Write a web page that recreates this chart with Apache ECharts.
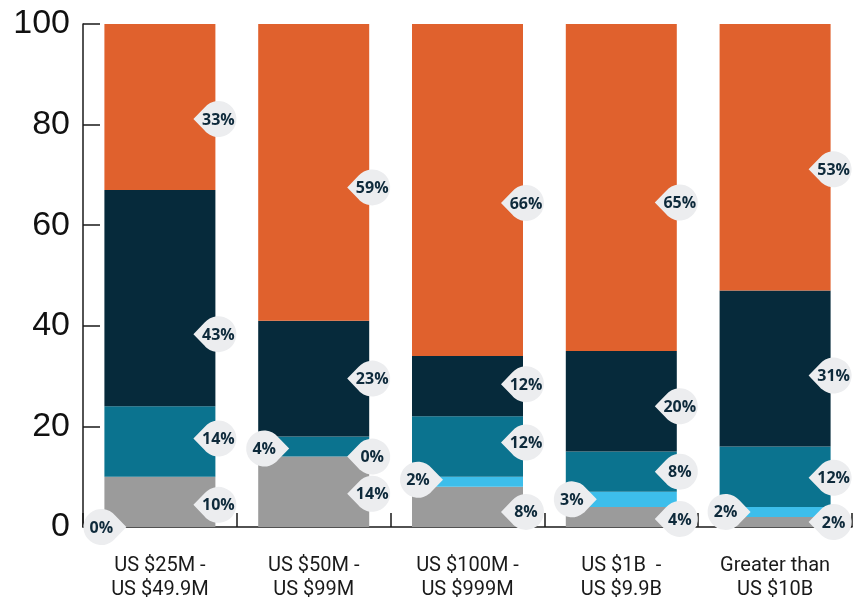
<!DOCTYPE html>
<html>
<head>
<meta charset="utf-8">
<script src="https://cdn.jsdelivr.net/npm/echarts@6/dist/echarts.min.js"></script>
<style>
  html, body { margin: 0; padding: 0; background: #ffffff; }
  #chart { width: 854px; height: 602px; }
</style>
</head>
<body>
<div id="chart"></div>
<script>
// Company size bands (x axis)
const categories = [
  'US $25M -\nUS $49.9M',
  'US $50M -\nUS $99M',
  'US $100M -\nUS $999M',
  'US $1B  -\nUS $9.9B',
  'Greater than\nUS $10B'
];

// Share of respondents per band, stacked bottom to top (%)
const greyShare   = [10, 14, 8, 4, 2];
const skyShare    = [0, 0, 2, 3, 2];
const tealShare   = [14, 4, 12, 8, 12];
const navyShare   = [43, 23, 12, 20, 31];
const orangeShare = [33, 59, 66, 65, 53];

const yTicks = [0, 20, 40, 60, 80, 100];

// Which side of the bar each value bubble sits on
const bubbleSide = {
  grey:   ['right', 'right', 'right', 'right', 'right'],
  sky:    ['base',  'right', 'left',  'left',  'left'],
  teal:   ['right', 'left',  'right', 'right', 'right'],
  navy:   ['right', 'right', 'right', 'right', 'right'],
  orange: ['right', 'right', 'right', 'right', 'right']
};

// Small vertical nudges (px) for bubble placement
const bubbleNudge = {
  grey:   [3, 2, 5, 2, 0],
  sky:    [0, 0, -2, 0, 0],
  teal:   [-3, 2, -4, 0, 1],
  navy:   [36, 0, -2, 5, 7],
  orange: [12, 15, 13, 15, 12]
};

const layers = [
  { key: 'grey',   data: greyShare,   color: '#9B9B9B' },
  { key: 'sky',    data: skyShare,    color: '#3DBEEB' },
  { key: 'teal',   data: tealShare,   color: '#0B738F' },
  { key: 'navy',   data: navyShare,   color: '#062A3B' },
  { key: 'orange', data: orangeShare, color: '#E0612D' }
];

const BAR_W = 111;
const R = 18;        // bubble radius
const TAIL = 25;     // tail tip distance from bubble centre
const W = TAIL + R;  // symbol box width
const H = 2 * R;
const a = 40 * Math.PI / 180;
const jx = TAIL - R * Math.cos(a), jy1 = R - R * Math.sin(a), jy2 = R + R * Math.sin(a);
// bubble with a tail pointing left / right
const pinPointLeft = 'path://M0 ' + R + ' L' + jx + ' ' + jy1 +
  ' A' + R + ' ' + R + ' 0 1 1 ' + jx + ' ' + jy2 + ' Z';
const pinPointRight = 'path://M' + W + ' ' + R + ' L' + (W - jx) + ' ' + jy1 +
  ' A' + R + ' ' + R + ' 0 1 0 ' + (W - jx) + ' ' + jy2 + ' Z';

const shift = (TAIL - W / 2);
const rightDx = BAR_W / 2 + 3 - shift;
const leftDx = -BAR_W / 2 + 6 + shift;

const rightPins = [];
const leftPins = [];
const running = categories.map(() => 0);
layers.forEach(layer => {
  layer.data.forEach((v, i) => {
    const side = bubbleSide[layer.key][i];
    const dy = bubbleNudge[layer.key][i];
    const mid = running[i] + v / 2;
    if (side === 'right') {
      rightPins.push({ value: [i, mid], pct: v, symbolOffset: [rightDx, dy] });
    } else if (side === 'left') {
      leftPins.push({ value: [i, mid], pct: v, symbolOffset: [leftDx, dy] });
    } else {
      leftPins.push({ value: [i, 0], pct: v, symbolOffset: [leftDx - 9, dy] });
    }
    running[i] += v;
  });
});

const pinLabel = (dx) => ({
  show: true,
  position: 'inside',
  offset: [dx, 1],
  formatter: p => p.data.pct + '%',
  fontFamily: 'Open Sans',
  fontWeight: 'bold',
  fontSize: 16,
  color: '#0E2A3B'
});

const chart = echarts.init(document.getElementById('chart'), null, { renderer: 'canvas' });

chart.setOption({
  animation: false,
  backgroundColor: '#ffffff',
  grid: { left: 83, right: 2, top: 24, bottom: 74, containLabel: false },
  xAxis: {
    type: 'category',
    data: categories,
    boundaryGap: true,
    axisLine: { show: true, lineStyle: { color: '#1a1a1a', width: 1.5 } },
    axisTick: { show: true, inside: true, length: 14, lineStyle: { color: '#1a1a1a', width: 1.5 } },
    axisLabel: {
      margin: 27,
      fontFamily: 'Roboto',
      fontSize: 20,
      lineHeight: 24,
      color: '#1a1a1a',
      interval: 0
    }
  },
  yAxis: {
    type: 'value',
    min: yTicks[0],
    max: yTicks[yTicks.length - 1],
    interval: yTicks[1] - yTicks[0],
    splitLine: { show: false },
    axisLine: { show: true, lineStyle: { color: '#1a1a1a', width: 1.5 } },
    axisTick: { show: true, inside: true, length: 17, lineStyle: { color: '#1a1a1a', width: 1.5 } },
    axisLabel: {
      margin: 13,
      fontFamily: 'Liberation Sans',
      fontSize: 34,
      color: '#111111'
    }
  },
  series: layers.map(layer => ({
    name: layer.key,
    type: 'bar',
    stack: 'share',
    barWidth: BAR_W,
    data: layer.data,
    itemStyle: { color: layer.color },
    z: 2
  })).concat([
    {
      name: 'bubbles-right',
      type: 'scatter',
      data: rightPins,
      symbol: pinPointLeft,
      symbolSize: [W, H],
      itemStyle: { color: '#ECEDEF', opacity: 1 },
      label: pinLabel(shift),
      clip: false,
      z: 5
    },
    {
      name: 'bubbles-left',
      type: 'scatter',
      data: leftPins,
      symbol: pinPointRight,
      symbolSize: [W, H],
      itemStyle: { color: '#ECEDEF', opacity: 1 },
      label: pinLabel(-shift),
      clip: false,
      z: 5
    }
  ])
});
</script>
</body>
</html>
